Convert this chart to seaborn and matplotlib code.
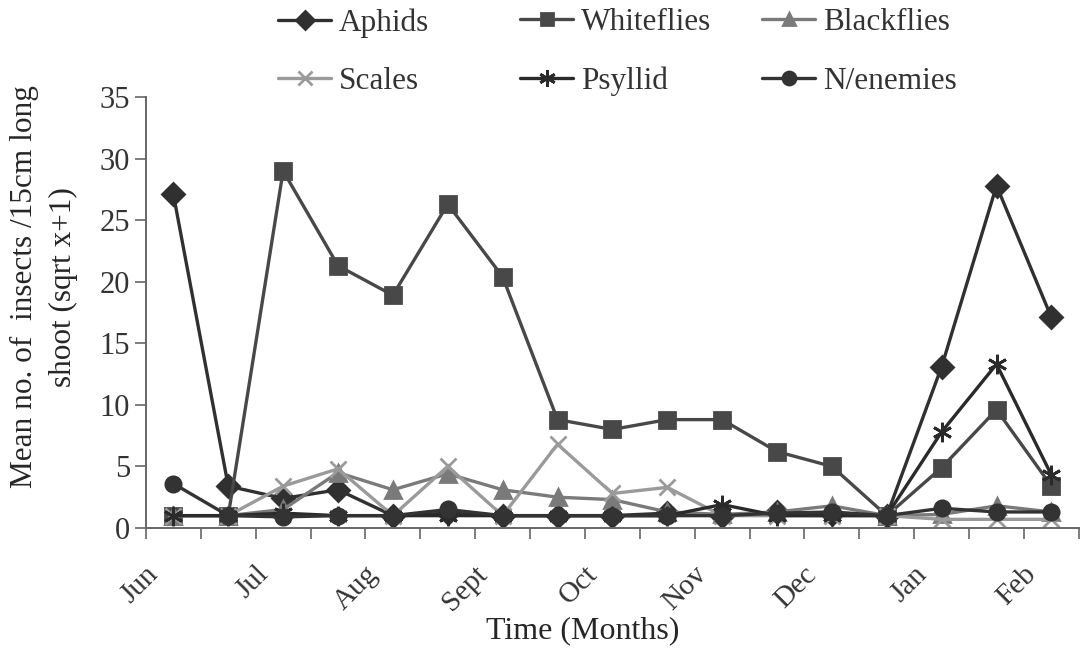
import numpy as np
import pandas as pd
import seaborn as sns
from matplotlib import pyplot as plt

# 17 sampling points (two per month), labels on every other one
months = ["Jun", "", "Jul", "", "Aug", "", "Sept", "", "Oct", "", "Nov", "", "Dec", "", "Jan", "", "Feb"]

aphids = [27.1, 3.4, 2.4, 3.1, 1.0, 1.2, 1.0, 1.0, 1.0, 1.2, 1.0, 1.3, 1.1, 1.0, 13.1, 27.8, 17.1]
whiteflies = [1.0, 1.0, 29.0, 21.3, 18.9, 26.3, 20.4, 8.8, 8.0, 8.8, 8.8, 6.2, 5.0, 1.0, 4.9, 9.6, 3.4]
blackflies = [1.0, 1.0, 1.5, 4.5, 3.1, 4.4, 3.1, 2.5, 2.3, 1.3, 1.1, 1.3, 1.8, 1.0, 1.1, 1.8, 1.3]
scales = [1.0, 1.0, 3.4, 4.8, 1.0, 5.0, 1.0, 6.8, 2.8, 3.3, 1.0, 1.0, 1.0, 1.0, 0.7, 0.7, 0.7]
psyllid = [1.0, 1.0, 1.2, 1.0, 1.0, 1.0, 1.0, 1.0, 1.0, 1.0, 1.9, 1.0, 1.0, 1.0, 7.8, 13.3, 4.3]
enemies = [3.6, 1.0, 0.9, 1.0, 1.0, 1.5, 1.0, 1.0, 1.0, 1.0, 1.0, 1.2, 1.3, 1.0, 1.6, 1.3, 1.3]

series = [
    ("Aphids", aphids, "#303030", "D", 11),
    ("Whiteflies", whiteflies, "#484848", "s", 11),
    ("Blackflies", blackflies, "#7a7a7a", "^", 11),
    ("Scales", scales, "#9a9a9a", "x", 12),
    ("Psyllid", psyllid, "#2a2a2a", (6, 2, 0), 14),
    ("N/enemies", enemies, "#333333", "o", 11),
]

sns.set_style("ticks")
plt.rcParams["font.family"] = ["Liberation Serif", "DejaVu Serif"]
plt.rcParams["text.color"] = "#333333"

fig = plt.figure(figsize=(10.81, 6.51), dpi=100)
ax = fig.add_axes([0.135, 0.189, 0.863, 0.662])

pos = np.arange(len(months))
for name, vals, color, marker, ms in series:
    sns.lineplot(x=pos, y=vals, ax=ax, color=color, marker=marker, markersize=ms,
                 markeredgecolor=color, markeredgewidth=2, linewidth=2.4, label=name)

ax.set_xlim(-0.5, len(months) - 0.5)
ax.set_ylim(0, 35)
ax.set_yticks(range(0, 36, 5))
# month labels sit a little left of their sampling point, like the original
ax.set_xticks(pos[::2] - 0.18)
ax.set_xticklabels([m for m in months if m], rotation=45, ha="right", va="top",
                   fontsize=21)
ax.set_xticks(np.arange(-0.5, len(months), 1), minor=True)
ax.tick_params(axis="x", which="major", length=0, pad=24, labelcolor="#333333")
ax.tick_params(axis="x", which="minor", length=8, width=1.2, color="#666666")
ax.tick_params(axis="y", labelsize=22, length=8, width=1.2, color="#666666",
               labelcolor="#333333")
for s in ["top", "right"]:
    ax.spines[s].set_visible(False)
for s in ["left", "bottom"]:
    ax.spines[s].set_color("#666666")
    ax.spines[s].set_linewidth(1.4)

ax.set_xlabel("Time (Months)", fontsize=23)
ax.xaxis.set_label_coords(0.468, -0.205)
ax.set_ylabel("Mean no. of  insects /15cm long\nshoot (sqrt x+1)", fontsize=22.5,
              linespacing=1.45)
ax.yaxis.set_label_coords(-0.073, 0.56)

# legend: three equal columns, two rows each
handles, labels = ax.get_legend_handles_labels()
ax.get_legend().remove()
col_x = [278, 520, 762]
for c, x in enumerate(col_x):
    idx = [c, c + 3]
    fig.legend([handles[i] for i in idx], [labels[i] for i in idx],
               loc="upper left", bbox_to_anchor=(x / 1081, 1 - 8 / 651),
               frameon=False, fontsize=22.5, handlelength=1.7, handletextpad=0.25,
               labelspacing=0.95, borderpad=0, borderaxespad=0, markerscale=0.85)

fig.savefig("out.png", dpi=100)
